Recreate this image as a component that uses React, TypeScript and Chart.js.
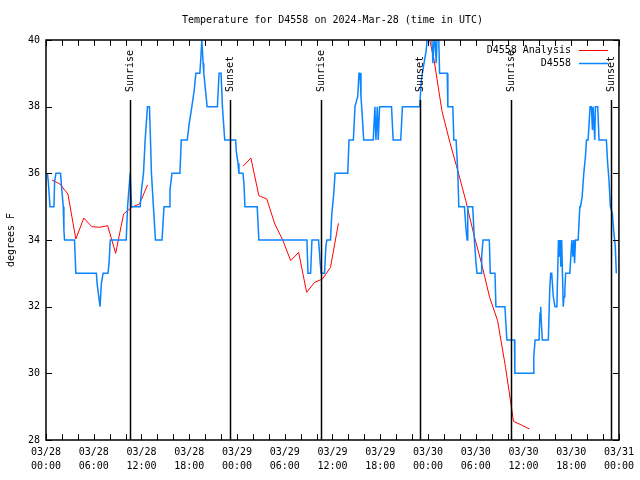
import React, { useEffect, useRef } from "react";
import { Chart, registerables } from "chart.js";
Chart.register(...registerables);

const TITLE = "Temperature for D4558 on 2024-Mar-28 (time in UTC)";
const Y_LABEL = "degrees F";
const SERIES_ANALYSIS = "D4558 Analysis";
const SERIES_OBS = "D4558";

const xTickLabels = [
  ["03/28", "00:00"], ["03/28", "06:00"], ["03/28", "12:00"], ["03/28", "18:00"],
  ["03/29", "00:00"], ["03/29", "06:00"], ["03/29", "12:00"], ["03/29", "18:00"],
  ["03/30", "00:00"], ["03/30", "06:00"], ["03/30", "12:00"], ["03/30", "18:00"],
  ["03/31", "00:00"],
];

// hours since 03/28 00:00 UTC
const obsHours = [
  0.17, 0.29, 0.5, 1.0, 1.08, 1.25, 1.83, 1.92, 2.17, 2.25, 2.33, 3.58, 3.75, 6.33, 6.42, 6.63, 6.79, 6.96,
  7.17, 7.79, 7.92, 8.08, 10.08, 10.25, 10.58, 10.75, 11.83, 12.0, 12.25, 12.46, 12.75, 13.0, 13.13, 13.25,
  13.5, 13.75, 14.58, 14.83, 15.5, 15.58, 15.83, 16.83, 17.0, 17.75, 18.0, 18.33, 18.63, 18.83, 19.33, 19.42,
  19.58, 19.75, 19.83, 20.25, 21.54, 21.75, 22.0, 22.17, 22.46, 23.83, 23.92, 24.13, 24.25, 24.75, 24.875,
  25.0, 26.54, 26.75, 32.79, 32.92, 33.25, 33.42, 34.25, 34.46, 34.58, 35.0, 35.17, 35.29, 35.75, 35.92,
  36.13, 36.33, 37.92, 38.08, 38.625, 38.83, 39.17, 39.33, 39.46, 39.58, 39.75, 39.92, 41.125, 41.33, 41.46,
  41.63, 41.75, 41.92, 43.42, 43.625, 44.58, 44.79, 46.96, 47.17, 47.5, 47.79, 48.0, 48.33, 48.5, 48.625,
  48.83, 49.04, 49.17, 49.33, 49.46, 50.42, 50.5, 51.125, 51.25, 51.54, 51.75, 51.875, 52.58, 52.79, 52.92,
  53.0, 53.625, 53.83, 54.04, 54.17, 54.67, 54.75, 54.92, 55.71, 55.83, 56.42, 56.54, 57.67, 57.79, 57.92,
  58.875, 58.92, 61.21, 61.3, 61.46, 61.96, 62.08, 62.17, 62.25, 62.375, 63.125, 63.3, 63.42, 63.55, 63.75,
  63.96, 64.2, 64.3, 64.4, 64.5, 64.6, 64.7, 64.8, 64.9, 65.0, 65.1, 65.2, 65.3, 65.83, 66.08, 66.21, 66.33,
  66.42, 66.54, 66.875, 67.08, 67.17, 67.375, 67.58, 67.79, 67.92, 68.125, 68.25, 68.375, 68.54, 68.67,
  68.75, 68.96, 69.04, 69.33, 69.5, 70.42, 70.58, 70.75, 70.92, 71.17, 71.33, 71.54, 71.67,
];
const obsTemps = [
  36, 35.75, 35, 35, 35.75, 36, 36, 35.7, 35, 34.3, 34, 34, 33, 33, 32.7, 32.3, 32, 32.7,
  33, 33, 33.3, 34, 34, 35, 36, 35, 35, 35.5, 36, 37, 38, 38, 37, 36,
  35, 34, 34, 35, 35, 35.5, 36, 36, 37, 37, 37.5, 38, 38.5, 39, 39, 39.3,
  40, 39.3, 39, 38, 38, 39, 39, 38, 37, 37, 36.65, 36.3, 36, 36, 35.7,
  35, 35, 34, 34, 33, 33, 34, 34, 33.3, 33, 33, 33.8, 34, 34, 34.8,
  35.3, 36, 36, 37, 37, 38, 38.3, 39, 39, 38.3, 37.7, 37, 37, 38, 37,
  38, 37, 38, 38, 37, 37, 38, 38, 38.8, 39.3, 39.7, 40.4, 40.5, 40, 39.3,
  40.3, 39.3, 40.3, 40.3, 39, 39, 38, 38, 37, 37, 36, 35, 35, 34.3, 34,
  35, 35, 34, 33.3, 33, 33, 33.5, 34, 34, 33, 33, 32, 32, 31.5, 31,
  31, 30, 30, 30.5, 31, 31, 31.8, 32, 31.5, 31, 31, 32.5, 33, 33, 32.3,
  32, 32, 33, 34, 33.5, 34, 33.2, 34, 33, 32, 32.3, 32.5, 33, 33, 34, 33.5, 34,
  33.3, 34, 34, 35, 35, 35.3, 36, 36.5, 37, 37, 37.5, 38, 38, 37.3,
  38, 37, 38, 38, 37, 37, 36.3, 35.8, 35, 34.8, 34.3, 33.8, 33,
];

const analysisHours = [
  0.75, 1.75, 2.75, 3.75, 4.75, 5.75, 6.75, 7.75, 8.75, 9.75, 10.75, 11.75, 12.75,
  18,
  24.75, 25.75, 26.75, 27.75, 28.75, 29.75, 30.75, 31.75, 32.75, 33.75, 34.75, 35.75, 36.75,
  42,
  47.75, 48.75, 49.75, 50.75, 51.75, 52.75, 53.75, 54.75, 55.75, 56.75, 57.75, 58.75, 59.75, 60.75,
];
const analysisTemps = [
  35.8, 35.68, 35.38, 34.03, 34.66, 34.4, 34.38, 34.43, 33.6, 34.78, 34.98, 35.08, 35.65,
  null,
  36.21, 36.46, 35.33, 35.23, 34.48, 34.0, 33.38, 33.63, 32.43, 32.73, 32.83, 33.18, 34.5,
  null,
  40.5, 39.43, 37.88, 36.93, 36.08, 35.18, 34.18, 33.28, 32.28, 31.58, 30.18, 28.56, 28.45, 28.33,
];

const sunriseHours = [10.55, 34.53, 58.45];
const sunsetHours = [23.07, 47.06, 71.05];

const RED = "#ff0000";
const BLUE = "#0a84ff";
const FONT = "DejaVu Sans Mono";

const decorPlugin = {
  id: "decor",
  afterDatasetsDraw(chart: any) {
    const { ctx, chartArea: a, scales } = chart;
    const x = scales.x;
    const y = scales.y;
    ctx.save();
    ctx.fillStyle = "#000";
    ctx.strokeStyle = "#000";

    // tick marks pointing inward
    ctx.lineWidth = 1;
    ctx.beginPath();
    for (let h = 0; h <= 72; h += 2) {
      const px = Math.round(x.getPixelForValue(h)) + 0.5;
      ctx.moveTo(px, a.bottom);
      ctx.lineTo(px, a.bottom - 6);
      ctx.moveTo(px, a.top);
      ctx.lineTo(px, a.top + 6);
    }
    for (let t = 28; t <= 40; t += 2) {
      const py = Math.round(y.getPixelForValue(t)) + 0.5;
      ctx.moveTo(a.left, py);
      ctx.lineTo(a.left + 6, py);
      ctx.moveTo(a.right, py);
      ctx.lineTo(a.right - 6, py);
    }
    ctx.stroke();

    // sunrise / sunset lines
    ctx.font = `10px "${FONT}"`;
    const drawSun = (h: number, label: string) => {
      const px = Math.round(x.getPixelForValue(h)) + 0.5;
      ctx.lineWidth = 1.5;
      ctx.beginPath();
      ctx.moveTo(px, a.top + 60);
      ctx.lineTo(px, a.bottom);
      ctx.stroke();
      ctx.save();
      ctx.translate(px, a.top + 52);
      ctx.rotate(-Math.PI / 2);
      ctx.textAlign = "left";
      ctx.textBaseline = "middle";
      ctx.fillText(label, 0, 0);
      ctx.restore();
    };
    sunriseHours.forEach((h) => drawSun(h, "Sunrise"));
    sunsetHours.forEach((h) => drawSun(h, "Sunset"));

    // border
    ctx.lineWidth = 1.5;
    ctx.strokeRect(a.left, a.top, a.right - a.left, a.bottom - a.top);

    // legend
    ctx.font = `10px "${FONT}"`;
    ctx.textAlign = "right";
    ctx.textBaseline = "middle";
    const items = [
      { label: SERIES_ANALYSIS, color: RED, w: 1 },
      { label: SERIES_OBS, color: BLUE, w: 1.5 },
    ];
    items.forEach((it, i) => {
      const ly = a.top + 10 + i * 13;
      ctx.fillStyle = "#000";
      ctx.fillText(it.label, a.right - 48, ly);
      ctx.strokeStyle = it.color;
      ctx.lineWidth = it.w;
      ctx.beginPath();
      ctx.moveTo(a.right - 40, ly + 0.5);
      ctx.lineTo(a.right - 11, ly + 0.5);
      ctx.stroke();
    });

    // title
    ctx.fillStyle = "#000";
    ctx.textAlign = "center";
    ctx.textBaseline = "middle";
    ctx.fillText(TITLE, (a.left + a.right) / 2, 20);

    // y-axis title
    ctx.save();
    ctx.translate(11, (a.top + a.bottom) / 2);
    ctx.rotate(-Math.PI / 2);
    ctx.fillText(Y_LABEL, 0, 0);
    ctx.restore();

    ctx.restore();
  },
};

export default function App() {
  const ref = useRef<HTMLCanvasElement | null>(null);
  useEffect(() => {
    if (!ref.current) return;
    const chart = new Chart(ref.current, {
      type: "line",
      data: {
        datasets: [
          {
            label: SERIES_OBS,
            data: obsHours.map((h, i) => ({ x: h, y: obsTemps[i] })),
            borderColor: BLUE,
            borderWidth: 1.5,
            pointRadius: 0,
            tension: 0,
            fill: false,
            order: 0,
            clip: 0,
          },
          {
            label: SERIES_ANALYSIS,
            data: analysisHours.map((h, i) => ({ x: h, y: analysisTemps[i] })),
            borderColor: RED,
            borderWidth: 1,
            pointRadius: 0,
            tension: 0,
            fill: false,
            spanGaps: false,
            order: 1,
            clip: 0,
          },
        ],
      } as any,
      options: {
        animation: false,
        responsive: false,
        maintainAspectRatio: false,
        devicePixelRatio: 1,
        layout: { padding: { top: 40, right: 19, left: 0, bottom: 0 } },
        plugins: { legend: { display: false }, title: { display: false }, tooltip: { enabled: false } },
        scales: {
          x: {
            type: "linear",
            min: 0,
            max: 72,
            grid: { display: false, drawTicks: false },
            border: { display: false },
            ticks: {
              stepSize: 6,
              autoSkip: false,
              maxRotation: 0,
              padding: 6,
              color: "#000",
              font: { family: FONT, size: 10, lineHeight: 1.35 },
              callback: (v: any) => xTickLabels[Math.round(Number(v) / 6)] ?? "",
            },
            afterFit: (s: any) => {
              s.height = 40;
            },
          },
          y: {
            min: 28,
            max: 40,
            grid: { display: false, drawTicks: false },
            border: { display: false },
            ticks: {
              stepSize: 2,
              padding: 6,
              color: "#000",
              font: { family: FONT, size: 10 },
            },
            afterFit: (s: any) => {
              s.width = 46;
            },
          },
        },
      } as any,
      plugins: [decorPlugin],
    });
    return () => chart.destroy();
  }, []);
  return (
    <div style={{ position: "absolute", left: 0, top: 0, width: 640, height: 480, background: "#fff" }}>
      <canvas ref={ref} width={640} height={480} style={{ width: 640, height: 480, display: "block" }} />
    </div>
  );
}
